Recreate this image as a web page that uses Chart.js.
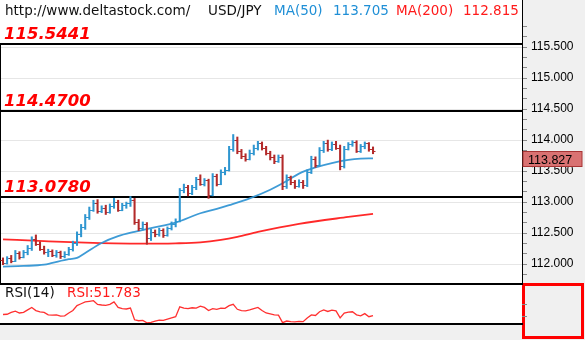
<!DOCTYPE html>
<html>
<head>
<meta charset="utf-8">
<script src="https://cdn.jsdelivr.net/npm/chart.js@4.4.1/dist/chart.umd.min.js"></script>
<style>
body { margin: 0; width: 585px; height: 340px; position: relative; overflow: hidden; background: #fff; }
.axisBg { position: absolute; left: 523px; top: 0; width: 62px; height: 340px; background: #f0f0f0; }
.bottomBg { position: absolute; left: 0; top: 324px; width: 523px; height: 16px; background: #f0f0f0; }
.rsiBox { position: absolute; left: 522px; top: 283px; width: 62px; height: 56px; box-sizing: border-box; border: 3px solid #ff0000; background: #f0f0f0; }
#main { position: absolute; left: 0; top: 0; }
#rsi { position: absolute; left: 0; top: 283px; }
.txt { position: absolute; font-family: "DejaVu Sans"; font-size: 13.5px; line-height: 1; white-space: nowrap; }
.blk { color: #111; }
.blu { color: #1f8fd6; }
.red { color: #ff1a1a; }
</style>
</head>
<body>
<div class="axisBg"></div>
<div class="bottomBg"></div>
<div class="rsiBox"></div>
<canvas id="main" width="585" height="283"></canvas>
<canvas id="rsi" width="585" height="57"></canvas>

<span class="txt blk" style="left:5px;top:4px">http://www.deltastock.com/</span>
<span class="txt blk" style="left:208px;top:4px">USD/JPY</span>
<span class="txt blu" style="left:274px;top:4px">MA(50)</span>
<span class="txt blu" style="left:333px;top:4px">113.705</span>
<span class="txt red" style="left:396px;top:4px">MA(200)</span>
<span class="txt red" style="left:463px;top:4px">112.815</span>
<span class="txt blk" style="left:5px;top:286px">RSI(14)</span>
<span class="txt red" style="left:67px;top:286px">RSI:51.783</span>

<script>
// USD/JPY bars
const opens = [
    112.06, 112.02, 112.10, 112.05, 112.18, 112.12, 112.19, 112.26, 112.40, 112.33,
    112.25, 112.19, 112.21, 112.15, 112.19, 112.13, 112.17, 112.25, 112.34, 112.48,
    112.60, 112.76, 112.88, 112.99, 112.86, 112.91, 112.84, 112.94, 113.00, 112.88,
    112.95, 112.98, 113.04, 112.68, 112.58, 112.65, 112.42, 112.52, 112.48, 112.55,
    112.47, 112.58, 112.65, 112.70, 113.19, 113.25, 113.14, 113.24, 113.37, 113.30,
    113.35, 113.12, 113.42, 113.30, 113.48, 113.52, 113.86, 114.00, 113.82, 113.74,
    113.70, 113.80, 113.88, 113.95, 113.87, 113.80, 113.72, 113.66, 113.73, 113.26,
    113.40, 113.32, 113.26, 113.33, 113.27, 113.49, 113.70, 113.60, 113.84, 113.95,
    113.86, 113.94, 113.88, 113.58, 113.86, 113.93, 113.97, 113.83, 113.90, 113.95,
    113.85
]
const highs = [
    112.10, 112.12, 112.14, 112.22, 112.20, 112.22, 112.30, 112.44, 112.47, 112.36,
    112.29, 112.24, 112.23, 112.22, 112.21, 112.20, 112.27, 112.37, 112.52, 112.64,
    112.80, 112.92, 113.03, 113.04, 112.94, 112.95, 112.97, 113.06, 113.03, 112.98,
    113.00, 113.09, 113.06, 112.72, 112.68, 112.67, 112.56, 112.55, 112.58, 112.57,
    112.60, 112.68, 112.73, 113.22, 113.29, 113.27, 113.27, 113.40, 113.44, 113.38,
    113.37, 113.46, 113.45, 113.52, 113.56, 113.90, 114.09, 114.05, 113.85, 113.78,
    113.84, 113.92, 113.98, 113.97, 113.90, 113.82, 113.76, 113.76, 113.76, 113.44,
    113.42, 113.35, 113.36, 113.35, 113.52, 113.74, 113.73, 113.88, 113.98, 114.00,
    113.97, 113.98, 113.92, 113.90, 113.96, 113.99, 113.99, 113.93, 113.97, 113.96,
    113.89
]
const lows = [
    111.99, 112.00, 112.02, 112.04, 112.08, 112.10, 112.15, 112.22, 112.30, 112.22,
    112.16, 112.12, 112.12, 112.11, 112.09, 112.10, 112.14, 112.21, 112.30, 112.44,
    112.56, 112.72, 112.85, 112.82, 112.83, 112.80, 112.82, 112.90, 112.85, 112.86,
    112.90, 112.93, 112.64, 112.54, 112.55, 112.32, 112.38, 112.44, 112.45, 112.43,
    112.45, 112.55, 112.60, 112.68, 113.15, 113.10, 113.12, 113.20, 113.27, 113.26,
    113.06, 113.10, 113.26, 113.28, 113.44, 113.50, 113.82, 113.78, 113.70, 113.66,
    113.68, 113.76, 113.84, 113.84, 113.76, 113.68, 113.62, 113.64, 113.20, 113.22,
    113.28, 113.22, 113.24, 113.22, 113.25, 113.46, 113.56, 113.58, 113.80, 113.82,
    113.83, 113.85, 113.52, 113.55, 113.84, 113.90, 113.80, 113.80, 113.86, 113.82,
    113.78
]
const closes = [
    112.02, 112.10, 112.05, 112.18, 112.12, 112.19, 112.26, 112.40, 112.33, 112.25,
    112.19, 112.21, 112.15, 112.19, 112.13, 112.17, 112.25, 112.34, 112.48, 112.60,
    112.76, 112.88, 112.99, 112.86, 112.91, 112.84, 112.94, 113.00, 112.88, 112.95,
    112.98, 113.04, 112.68, 112.58, 112.65, 112.42, 112.52, 112.48, 112.55, 112.47,
    112.58, 112.65, 112.70, 113.19, 113.25, 113.14, 113.24, 113.37, 113.30, 113.35,
    113.12, 113.42, 113.30, 113.48, 113.52, 113.86, 114.00, 113.82, 113.74, 113.70,
    113.80, 113.88, 113.95, 113.87, 113.80, 113.72, 113.66, 113.73, 113.26, 113.40,
    113.32, 113.26, 113.33, 113.27, 113.49, 113.70, 113.60, 113.84, 113.95, 113.86,
    113.94, 113.88, 113.58, 113.86, 113.93, 113.97, 113.83, 113.90, 113.95, 113.85,
    113.827
]

// moving averages (bar index, value)
const ma50Index = [0, 5, 10, 12, 16, 18, 20, 24, 28, 32, 36, 42, 48, 52, 55, 60, 65, 69, 72, 76, 80, 84, 87, 90]
const ma50Values = [111.96, 111.97, 111.99, 112.02, 112.08, 112.10, 112.18, 112.34, 112.45, 112.52, 112.58, 112.67,
    112.82, 112.89, 112.95, 113.06, 113.20, 113.34, 113.46, 113.56, 113.63, 113.68, 113.70, 113.705]
const ma200Index = [0, 10, 20, 32, 42, 48, 53, 57, 62, 72, 84, 90]
const ma200Values = [112.40, 112.37, 112.345, 112.33, 112.335, 112.35, 112.39, 112.44, 112.52, 112.65, 112.76, 112.81]

const rsiValues = [
    53.6, 54, 57, 59, 56, 57, 61, 65, 60, 58,
    57, 53, 52.5, 53, 51, 51.5, 56, 60, 68, 71,
    74, 75, 76, 70, 69, 68.5, 70, 74, 65, 63,
    62.5, 64, 45, 43.5, 44, 40, 41, 43, 44.5, 44,
    46, 48, 50, 66, 64, 63, 64.5, 64, 67, 65,
    60, 63, 62, 64, 63.5, 68, 70, 62, 60, 59.5,
    61, 63, 65, 60, 56, 54.5, 53, 52.5, 40.5, 43,
    42, 41.5, 42.5, 42, 48, 53, 52, 58, 61, 58.5,
    60.5, 59.5, 48, 56, 57.5, 58, 53, 51.5, 55, 50,
    51.783
]

const levelValues = [115.5441, 114.47, 113.078]
const levelLabels = ['115.5441', '114.4700', '113.0780']
const priceLabels = [112.0, 112.5, 113.0, 113.5, 114.0, 114.5, 115.0, 115.5]
const rsiTicks = [50, 70]

const upColor = '#2f96d0'
const downColor = '#b32a2a'
const xMin = -0.73
const xMax = 126.24

// every label gets two minor ticks above it, plus one below the lowest
const priceTickValues = [priceLabels[0] - 1 / 6]
priceLabels.forEach(m => priceTickValues.push(m, m + 1 / 6, m + 2 / 6))
const isLabel = v => priceLabels.some(m => Math.abs(m - v) < 1e-6)

const levels = {
    id: 'levels',
    beforeDatasetsDraw(chart) {
        const { ctx, chartArea, scales: { y } } = chart
        ctx.save()
        ctx.strokeStyle = '#000'
        ctx.lineWidth = 2
        ctx.font = 'italic bold 16.5px "DejaVu Sans"'
        ctx.fillStyle = '#ff0000'
        ctx.textBaseline = 'alphabetic'
        levelValues.forEach((v, i) => {
            const py = Math.round(y.getPixelForValue(v))
            ctx.beginPath()
            ctx.moveTo(chartArea.left, py)
            ctx.lineTo(chartArea.right, py)
            ctx.stroke()
            ctx.fillText(levelLabels[i], 4, py - 5.5)
        })
        // left frame edge
        ctx.lineWidth = 1
        ctx.beginPath()
        ctx.moveTo(0.5, Math.round(y.getPixelForValue(levelValues[0])))
        ctx.lineTo(0.5, chartArea.bottom)
        ctx.stroke()
        ctx.restore()
    }
}

const ohlcTicks = {
    id: 'ohlcTicks',
    afterDatasetsDraw(chart) {
        const { ctx, scales: { x, y } } = chart
        ctx.save()
        ctx.lineWidth = 1
        closes.forEach((c, i) => {
            const px = x.getPixelForValue(i)
            const yo = Math.round(y.getPixelForValue(opens[i])) + 0.5
            const yc = Math.round(y.getPixelForValue(c)) + 0.5
            ctx.strokeStyle = c >= opens[i] ? upColor : downColor
            ctx.beginPath()
            ctx.moveTo(px - 2.5, yo)
            ctx.lineTo(px, yo)
            ctx.moveTo(px, yc)
            ctx.lineTo(px + 2.5, yc)
            ctx.stroke()
        })
        ctx.restore()
    }
}

const priceTag = {
    id: 'priceTag',
    afterDraw(chart) {
        const { ctx, chartArea, scales: { y } } = chart
        const last = closes[closes.length - 1]
        const top = Math.round(y.getPixelForValue(last)) + 0.5
        ctx.save()
        ctx.fillStyle = '#d97272'
        ctx.strokeStyle = '#a83434'
        ctx.lineWidth = 1
        ctx.fillRect(chartArea.right + 1, top, 59, 15)
        ctx.strokeRect(chartArea.right + 1, top, 59, 15)
        ctx.fillStyle = '#000'
        ctx.font = '12.5px "Liberation Sans"'
        ctx.textBaseline = 'alphabetic'
        ctx.fillText(last.toFixed(3), chartArea.right + 6, top + 12.5)
        ctx.restore()
    }
}

new Chart(document.getElementById('main').getContext('2d'), {
    type: 'bar',
    data: {
        datasets: [
            {
                type: 'bar',
                data: lows.map((l, i) => ({ x: i, y: [l, highs[i]] })),
                backgroundColor: closes.map((c, i) => (c >= opens[i] ? upColor : downColor)),
                barThickness: 1.4,
                borderWidth: 0
            },
            {
                type: 'line',
                data: ma50Index.map((x, i) => ({ x: x, y: ma50Values[i] })),
                borderColor: 'rgba(52, 150, 212, 0.95)',
                borderWidth: 1.8,
                pointRadius: 0,
                cubicInterpolationMode: 'monotone'
            },
            {
                type: 'line',
                data: ma200Index.map((x, i) => ({ x: x, y: ma200Values[i] })),
                borderColor: 'rgba(255, 30, 30, 0.95)',
                borderWidth: 1.8,
                pointRadius: 0,
                cubicInterpolationMode: 'monotone'
            }
        ]
    },
    options: {
        responsive: false,
        animation: false,
        layout: { padding: 0 },
        plugins: { legend: { display: false }, tooltip: { enabled: false } },
        scales: {
            x: { type: 'linear', display: false, min: xMin, max: xMax, offset: false },
            y: {
                position: 'right',
                min: 111.695,
                max: 116.26,
                afterBuildTicks: s => {
                    s.ticks = priceTickValues.map(v => ({ value: v }))
                },
                afterFit: s => {
                    s.width = 63
                    s.paddingTop = 0
                    s.paddingBottom = 0
                },
                ticks: {
                    autoSkip: false,
                    padding: 4,
                    color: '#000',
                    font: { family: 'Liberation Sans', size: 12 },
                    callback: v => (isLabel(v) ? v.toFixed(3) : '')
                },
                grid: {
                    color: c => (c.tick && isLabel(c.tick.value) ? '#e6e6e6' : 'rgba(0,0,0,0)'),
                    tickColor: '#8a8a8a',
                    tickLength: 5
                },
                border: { display: true, color: '#000', width: 1 }
            }
        }
    },
    plugins: [levels, ohlcTicks, priceTag]
})

const rsiFrame = {
    id: 'rsiFrame',
    afterDraw(chart) {
        const { ctx, chartArea } = chart
        ctx.save()
        ctx.strokeStyle = '#000'
        ctx.lineWidth = 2
        ctx.beginPath()
        ctx.moveTo(0, 1)
        ctx.lineTo(chartArea.right + 1, 1)
        ctx.moveTo(0, chartArea.bottom)
        ctx.lineTo(chartArea.right + 1, chartArea.bottom)
        ctx.stroke()
        ctx.restore()
    }
}

new Chart(document.getElementById('rsi').getContext('2d'), {
    type: 'line',
    data: {
        datasets: [
            {
                data: rsiValues.map((v, i) => ({ x: i, y: v })),
                borderColor: '#ff3030',
                borderWidth: 1.3,
                pointRadius: 0,
                tension: 0
            }
        ]
    },
    options: {
        responsive: false,
        animation: false,
        layout: { padding: { top: 0, bottom: 16, left: 0, right: 0 } },
        plugins: { legend: { display: false }, tooltip: { enabled: false } },
        scales: {
            x: { type: 'linear', display: false, min: xMin, max: xMax, offset: false },
            y: {
                position: 'right',
                min: 38.2,
                max: 104.6,
                afterBuildTicks: s => {
                    s.ticks = rsiTicks.map(v => ({ value: v }))
                },
                afterFit: s => {
                    s.width = 63
                    s.paddingTop = 0
                    s.paddingBottom = 0
                },
                ticks: { callback: () => '' },
                grid: { drawOnChartArea: false, tickColor: '#8a8a8a', tickLength: 5 },
                border: { display: false }
            }
        }
    },
    plugins: [rsiFrame]
})
</script>
</body>
</html>
